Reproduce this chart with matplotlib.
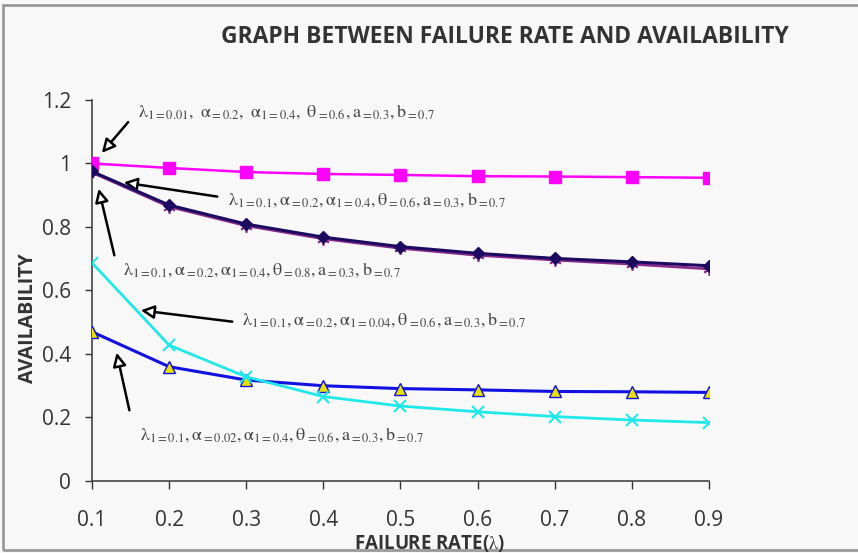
import matplotlib.pyplot as plt
from matplotlib.patches import Rectangle

# dados
taxa_falha = [0.1, 0.2, 0.3, 0.4, 0.5, 0.6, 0.7, 0.8, 0.9]
disp_navy = [0.975, 0.869, 0.809, 0.768, 0.738, 0.717, 0.701, 0.690, 0.678]
disp_magenta = [1.0, 0.986, 0.973, 0.967, 0.964, 0.960, 0.959, 0.957, 0.955]
disp_azul = [0.470, 0.360, 0.318, 0.300, 0.291, 0.287, 0.282, 0.281, 0.279]
disp_ciano = [0.687, 0.428, 0.328, 0.266, 0.236, 0.218, 0.203, 0.192, 0.184]
disp_roxo = [0.972, 0.864, 0.804, 0.763, 0.733, 0.711, 0.696, 0.683, 0.668]

L = r"\mathrm{\lambda}"
A = r"\mathrm{\alpha}"
T = r"\mathrm{\theta}"
rotulos = [
    rf"${L}_{{\mathrm{{1=0.01}}}},\ {A}_{{\mathrm{{=0.2}}}},\ {A}_{{\mathrm{{1=0.4}}}},\ {T}_{{\mathrm{{=0.6}}}},\mathrm{{a}}_{{\mathrm{{=0.3}}}},\mathrm{{b}}_{{\mathrm{{=0.7}}}}$",
    rf"${L}_{{\mathrm{{1=0.1}}}},{A}_{{\mathrm{{=0.2}}}},{A}_{{\mathrm{{1=0.4}}}},{T}_{{\mathrm{{=0.6}}}},\mathrm{{a}}_{{\mathrm{{=0.3}}}},\mathrm{{b}}_{{\mathrm{{=0.7}}}}$",
    rf"${L}_{{\mathrm{{1=0.1}}}},{A}_{{\mathrm{{=0.2}}}},{A}_{{\mathrm{{1=0.4}}}},{T}_{{\mathrm{{=0.8}}}},\mathrm{{a}}_{{\mathrm{{=0.3}}}},\mathrm{{b}}_{{\mathrm{{=0.7}}}}$",
    rf"${L}_{{\mathrm{{1=0.1}}}},{A}_{{\mathrm{{=0.2}}}},{A}_{{\mathrm{{1=0.04}}}},{T}_{{\mathrm{{=0.6}}}},\mathrm{{a}}_{{\mathrm{{=0.3}}}},\mathrm{{b}}_{{\mathrm{{=0.7}}}}$",
    rf"${L}_{{\mathrm{{1=0.1}}}},{A}_{{\mathrm{{=0.02}}}},{A}_{{\mathrm{{1=0.4}}}},{T}_{{\mathrm{{=0.6}}}},\mathrm{{a}}_{{\mathrm{{=0.3}}}},\mathrm{{b}}_{{\mathrm{{=0.7}}}}$",
]

plt.rcParams['mathtext.fontset'] = 'stix'
plt.rcParams['font.family'] = ['Open Sans', 'DejaVu Sans']

fundo = '#f8f8f8'
fig = plt.figure(figsize=(8.58, 5.53), dpi=100, facecolor=fundo)
ax = fig.add_axes([0.1072, 0.1302, 0.7191, 0.689])
ax.set_facecolor(fundo)

ax.plot(taxa_falha, disp_magenta, color='#ff00ff', lw=1.8, marker='s', ms=8, mec='#ff00ff', zorder=3)
ax.plot(taxa_falha, disp_azul, color='#1010e0', lw=2.2, marker='^', ms=8, mfc='#e8e000', mec='#1010e0', zorder=3)
ax.plot(taxa_falha, disp_ciano, color='#20e8e8', lw=2, marker='x', ms=8, mew=1.5, zorder=3)
ax.plot(taxa_falha, disp_roxo, color='#8a2a8a', lw=2, marker=(6, 2, 0), ms=9, mew=1.2, zorder=3)
ax.plot(taxa_falha, disp_navy, color='#1c0a60', lw=2.2, marker='D', ms=6, zorder=4)

ax.set_xlim(0.1, 0.9)
ax.set_ylim(0, 1.2)
ax.set_xticks(taxa_falha)
ax.set_xticklabels([str(v) for v in taxa_falha])
ax.set_yticks([0, 0.2, 0.4, 0.6, 0.8, 1.0, 1.2])
ax.set_yticklabels(['0', '0.2', '0.4', '0.6', '0.8', '1', '1.2'])
ax.tick_params(axis='x', length=6, width=1, pad=15, labelsize=15, colors='#333333')
ax.tick_params(axis='y', length=5, width=1, pad=10, labelsize=15, colors='#333333')
for lado in ['top', 'right']:
    ax.spines[lado].set_visible(False)
for lado in ['left', 'bottom']:
    ax.spines[lado].set_color('#444444')
    ax.spines[lado].set_linewidth(1.2)

fig.text(0.588, 0.933, 'GRAPH BETWEEN FAILURE RATE AND AVAILABILITY', ha='center', va='center',
         fontsize=16.5, fontweight='bold', color='#333333')
fig.text(0.501, 0.018, r'FAILURE RATE($\mathrm{\lambda}$)', ha='center', va='center',
         fontsize=13.5, fontweight='bold', color='#333333')
fig.text(0.033, 0.425, 'AVAILABILITY', ha='center', va='center', rotation=90,
         fontsize=14, fontweight='bold', color='#333333')

# anotacoes: (texto em pixel, ponta da seta, cauda da seta)
notas = [
    ((138, 112), (100, 155), (130, 120)),
    ((228, 200), (121, 182), (220, 197)),
    ((123, 270), (98, 186), (115, 258)),
    ((242, 320), (138, 310), (235, 322)),
    ((140, 435), (116, 350), (130, 413)),
]
W, H = 858.0, 553.0
for texto, (pos_txt, ponta, cauda) in zip(rotulos, notas):
    fig.text(pos_txt[0] / W, 1 - pos_txt[1] / H, texto, ha='left', va='center',
             fontsize=13, color='#444444')
    ax.annotate('', xy=(ponta[0] / W, 1 - ponta[1] / H), xycoords='figure fraction',
                xytext=(cauda[0] / W, 1 - cauda[1] / H), textcoords='figure fraction',
                arrowprops=dict(arrowstyle='-|>,head_length=0.8,head_width=0.4',
                                facecolor='white', edgecolor='black', lw=1.8),
                annotation_clip=False)

fig.patches.append(Rectangle((0.003, 0.006), 1.2, 0.985, transform=fig.transFigure,
                             fill=False, edgecolor='#999999', lw=2))

fig.savefig('out.png', dpi=100, facecolor=fundo)
